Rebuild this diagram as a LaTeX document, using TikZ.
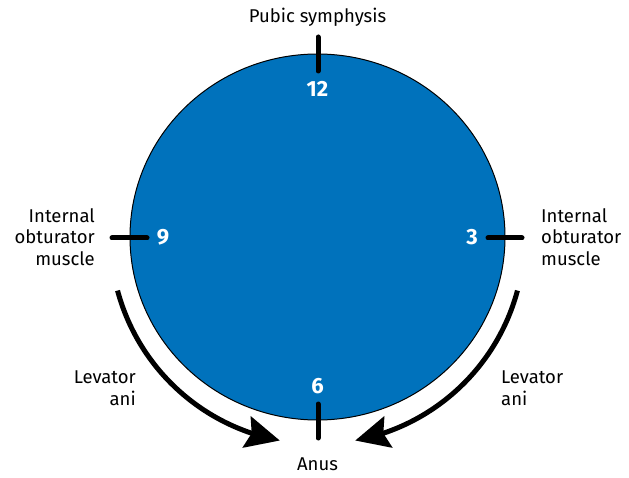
\documentclass[tikz,border=0pt]{standalone}
\usepackage{fontspec}
\setmainfont{Fira Sans}
\usetikzlibrary{arrows.meta,bending}
\definecolor{discblue}{RGB}{0,114,188}
\tikzset{
  lbl/.style={font=\fontsize{18.5}{21.5}\selectfont, inner sep=0pt},
  num/.style={font=\fontsize{22}{24}\selectfont\bfseries, text=white, inner sep=0pt},
  tick/.style={line width=5pt, line cap=round},
  musclearrow/.style={line width=5pt, -{Stealth[length=34pt,width=32pt,inset=5pt]}}
}
\begin{document}
\begin{tikzpicture}[x=1pt,y=1pt]
\useasboundingbox (0,0) rectangle (629,477);
\coordinate (C) at (317.5,240);
\fill[discblue] (C) ellipse [x radius=187.5, y radius=183];
\draw[line width=1pt] (C) ellipse [x radius=187.5, y radius=183];
% ticks
\coordinate (t1) at (318,440); \coordinate (t2) at (318,406);
\coordinate (b1) at (318,73);  \coordinate (b2) at (318,39);
\coordinate (l1) at (112,239); \coordinate (l2) at (147,239);
\coordinate (r1) at (488,239); \coordinate (r2) at (522,239);
\draw[tick] (t1) -- (t2);
\draw[tick] (b1) -- (b2);
\draw[tick] (l1) -- (l2);
\draw[tick] (r1) -- (r2);
% numbers
\node[num] (n12) at (317.5,388) {12};
\node[num] (n9) at (163,240) {9};
\node[num] (n3) at (472,240) {3};
\node[num] (n6) at (317.5,91) {6};
% labels
\node[lbl] (pubic) at (317.5,460) {Pubic symphysis};
\node[lbl, anchor=east, align=right] (iol) at (95,240) {Internal\\obturator\\muscle};
\node[lbl, anchor=west, align=left] (ior) at (541,240) {Internal\\obturator\\muscle};
\node[lbl, anchor=east, align=right] (lal) at (136,89) {Levator\\ani};
\node[lbl, anchor=west, align=left] (lar) at (501,89) {Levator\\ani};
\node[lbl] (anus) at (317.5,13) {Anus};
% arrows
\draw[musclearrow] (C) ++(195:207) arc[start angle=195, end angle=259.5, radius=207];
\draw[musclearrow] (C) ++(-15:207) arc[start angle=-15, end angle=-79.5, radius=207];
\end{tikzpicture}
\end{document}
